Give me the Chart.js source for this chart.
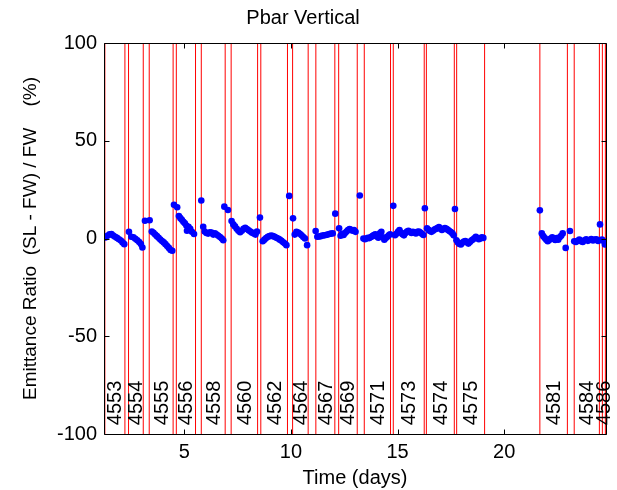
<!DOCTYPE html>
<html><head><meta charset="utf-8">
<script src="https://cdn.jsdelivr.net/npm/chart.js@4"></script>
<style>html,body{margin:0;padding:0;background:#fff}#wrap{width:617px;height:490px}</style>
</head><body><div id="wrap"><canvas id="c" width="617" height="490"></canvas></div>
<script>
const stores = ['4553','4554','4555','4556','4558','4560','4562','4564','4567','4569','4571','4573','4574','4575','4581','4584','4586'];
const storeStart = [1.28,2.39,3.36,4.63,5.80,7.20,8.59,10.08,11.17,12.24,13.44,14.80,16.35,17.77,21.67,23.28,24.60];
const storeEnd   = [2.22,3.08,4.48,5.53,6.92,8.44,9.84,10.81,12.06,13.11,14.67,16.25,17.66,19.08,22.96,24.46,24.74];
const xTicks = [5,10,15,20];
const yTicks = [-100,-50,0,50,100];

const times = [
 1.31,1.40,1.50,1.59,1.67,1.76,1.85,1.94,2.03,2.11,2.19,
 2.41,2.52,2.62,2.71,2.80,2.89,2.97,3.04,
 3.16,3.38,3.48,3.56,3.64,3.72,3.80,3.88,3.96,4.04,4.12,4.20,4.28,4.36,4.44,
 4.52,4.67,4.75,4.82,4.89,4.96,5.03,5.10,5.13,5.20,5.28,5.36,5.46,
 5.80,5.89,5.96,6.04,6.12,6.20,6.28,6.36,6.44,6.52,6.60,6.68,6.76,6.83,
 6.88,7.05,7.22,7.30,7.38,7.46,7.54,7.62,7.70,7.78,7.86,7.94,8.02,8.10,8.18,8.26,8.34,8.41,
 8.55,8.68,8.76,8.84,8.92,9.00,9.08,9.16,9.24,9.32,9.40,9.48,9.56,9.64,9.72,9.79,
 9.92,10.10,10.18,10.26,10.34,10.42,10.50,10.58,10.66,10.76,
 11.16,11.24,11.32,11.40,11.48,11.56,11.64,11.72,11.80,11.88,11.96,12.08,
 12.26,12.33,12.40,12.47,12.54,12.61,12.68,12.75,12.82,12.89,12.96,13.03,13.23,
 13.40,13.47,13.54,13.61,13.68,13.75,13.82,13.89,13.96,14.03,14.10,14.17,14.24,14.31,14.38,14.45,14.52,14.59,14.65,
 14.80,14.88,14.95,15.02,15.09,15.16,15.23,15.30,15.37,15.44,15.51,15.58,15.65,15.72,15.79,15.86,15.93,16.00,16.07,16.14,16.21,
 16.28,16.38,16.45,16.52,16.59,16.66,16.73,16.80,16.87,16.94,17.01,17.08,17.15,17.22,17.29,17.36,17.43,17.50,17.57,17.63,
 17.69,17.76,17.83,17.90,17.97,18.04,18.11,18.18,18.25,18.32,18.39,18.46,18.53,18.60,18.67,18.74,18.81,18.88,18.95,19.02,
 21.67,21.76,21.83,21.90,21.97,22.04,22.11,22.18,22.25,22.32,22.39,22.46,22.53,22.60,22.67,22.74,22.88,
 23.08,23.28,23.36,23.44,23.52,23.60,23.68,23.76,23.84,23.92,24.00,24.08,24.16,24.24,24.32,24.40,24.49,
 24.58,24.64,24.72
];
const ratios = [
 0.5,1.4,2.1,2.3,1.5,0.9,0.3,-0.4,-1.0,-2.0,-2.9,
 3.4,0.9,0.6,-0.1,-0.9,-1.8,-2.8,-4.6,
 9.1,9.3,3.6,2.9,2.0,1.2,0.4,-0.5,-1.3,-2.0,-2.9,-3.8,-4.8,-5.9,-6.3,
 17.2,16.0,11.5,10.4,9.6,8.6,7.8,6.6,4.0,6.0,5.0,3.4,2.3,
 19.4,6.0,3.6,2.8,2.5,3.2,3.0,2.0,2.6,2.0,1.4,0.8,0.0,-0.9,
 16.3,14.6,8.9,7.2,6.2,5.0,4.0,3.2,4.0,4.9,5.5,4.8,4.2,3.6,3.0,2.5,2.0,3.5,
 10.7,-1.4,-0.6,0.2,0.9,1.2,1.5,1.2,0.9,0.4,0.0,-0.6,-1.2,-1.9,-2.6,-3.4,
 21.8,10.3,2.0,3.4,3.0,2.4,1.6,0.8,0.0,-3.4,
 3.8,0.9,1.0,1.2,1.5,1.6,1.8,2.0,2.3,2.5,2.6,12.7,
 5.2,1.4,2.4,1.8,2.8,3.6,4.3,4.8,4.5,4.0,4.3,3.4,22.0,
 0.0,-0.4,0.0,0.3,0.2,0.8,1.2,1.8,2.2,1.0,0.4,2.6,3.4,0.6,-0.6,0.2,0.9,1.6,2.2,
 16.7,1.7,2.4,3.4,4.3,3.0,2.2,1.6,2.8,3.6,4.0,3.4,2.8,3.4,3.0,2.6,3.4,3.6,3.0,2.4,1.8,
 15.5,5.2,4.4,3.8,3.4,4.0,4.6,4.9,5.4,5.8,5.0,4.4,4.9,5.3,5.0,4.4,3.8,3.3,2.6,1.6,
 15.1,-0.9,-2.0,-2.8,-3.1,-2.2,-1.6,-1.3,-1.9,-2.6,-1.8,-1.0,-0.5,0.1,0.9,0.2,-0.4,0.0,0.6,0.3,
 14.4,2.6,1.2,0.2,-0.6,-1.4,-0.8,0.0,0.6,-0.3,-0.8,0.2,-0.6,0.6,1.4,2.6,-4.8,
 3.8,-1.4,-1.8,-1.2,-0.6,-1.4,-1.8,-0.9,-0.4,-1.2,-0.8,-0.3,-1.0,-0.6,-0.4,-1.3,7.2,
 -0.6,-1.2,-3.1
];

const FONT = '"Liberation Sans", Arial, Helvetica, sans-serif';
const FS = 20;

const storePlugin = {
  id: 'stores',
  beforeDatasetsDraw(chart) {
    const {ctx, chartArea: a, scales: {x}} = chart;
    ctx.save();
    ctx.beginPath(); ctx.rect(a.left, a.top, a.right - a.left + 1, a.bottom - a.top); ctx.clip();
    ctx.strokeStyle = '#ff0000'; ctx.lineWidth = 1;
    const all = storeStart.concat(storeEnd);
    all.forEach(t => {
      const px = x.getPixelForValue(t);
      ctx.beginPath(); ctx.moveTo(px, a.top); ctx.lineTo(px, a.bottom); ctx.stroke();
    });
    ctx.restore();
  },
  afterDatasetsDraw(chart) {
    const {ctx, scales: {x, y}, chartArea: a} = chart;
    ctx.save();
    ctx.fillStyle = '#000';
    ctx.font = FS + 'px ' + FONT;
    ctx.textAlign = 'left'; ctx.textBaseline = 'middle';
    stores.forEach((s, i) => {
      const px = x.getPixelForValue((storeStart[i] + storeEnd[i]) / 2) + 1;
      const py = y.getPixelForValue(-95.5);
      ctx.save(); ctx.translate(px, py); ctx.rotate(-Math.PI / 2); ctx.fillText(s, 0, 0); ctx.restore();
    });
    // frame and inward ticks
    ctx.strokeStyle = '#000'; ctx.lineWidth = 1;
    const L = Math.round(a.left) + 0.5, R = Math.round(a.right) + 0.5, T = Math.round(a.top) + 0.5, B = Math.round(a.bottom) + 0.5;
    ctx.beginPath(); ctx.rect(L, T, R - L, B - T); ctx.stroke();
    const tl = 5;
    xTicks.forEach(v => {
      const px = Math.round(x.getPixelForValue(v)) + 0.5;
      ctx.beginPath(); ctx.moveTo(px, B); ctx.lineTo(px, B - tl); ctx.moveTo(px, T); ctx.lineTo(px, T + tl); ctx.stroke();
    });
    yTicks.forEach(v => {
      const py = Math.round(y.getPixelForValue(v)) + 0.5;
      ctx.beginPath(); ctx.moveTo(L, py); ctx.lineTo(L + tl, py); ctx.moveTo(R, py); ctx.lineTo(R - tl, py); ctx.stroke();
    });
    ctx.restore();
  }
};

new Chart(document.getElementById('c'), {
  type: 'scatter',
  data: {
    datasets: [{
      data: times.map((t, i) => ({x: t, y: ratios[i]})),
      backgroundColor: '#0000ff',
      borderWidth: 0,
      pointRadius: 3.3,
      pointHoverRadius: 3.3
    }]
  },
  options: {
    responsive: false,
    animation: false,
    events: [],
    layout: {padding: {top: 0, right: 11, left: 0, bottom: 0}},
    plugins: {
      legend: {display: false},
      tooltip: {enabled: false},
      title: {
        display: true, text: 'Pbar Vertical', color: '#000',
        font: {family: FONT, size: FS, weight: 'normal', lineHeight: 1.2},
        padding: {top: 6, bottom: 13}
      }
    },
    scales: {
      x: {
        type: 'linear', min: 1.24, max: 24.77,
        afterBuildTicks: s => { s.ticks = xTicks.map(v => ({value: v})); },
        afterFit: s => { s.height = 56; },
        grid: {display: false, drawTicks: false},
        border: {display: false},
        ticks: {color: '#000', font: {family: FONT, size: FS}, padding: 6, maxRotation: 0},
        title: {display: true, text: 'Time (days)', color: '#000', font: {family: FONT, size: FS, lineHeight: 1.2}, padding: {top: 0, bottom: 0}}
      },
      y: {
        type: 'linear', min: -100, max: 100,
        afterBuildTicks: s => { s.ticks = yTicks.map(v => ({value: v})); },
        afterFit: s => { s.width = 104; },
        grid: {display: false, drawTicks: false},
        border: {display: false},
        ticks: {color: '#000', font: {family: FONT, size: FS}, padding: 7},
        title: {display: true, text: 'Emittance Ratio  (SL - FW) / FW    (%)', color: '#000', font: {family: FONT, size: 19, lineHeight: 1.2}, padding: {top: 19, bottom: 0}}
      }
    }
  },
  plugins: [storePlugin]
});
</script>
</body></html>
